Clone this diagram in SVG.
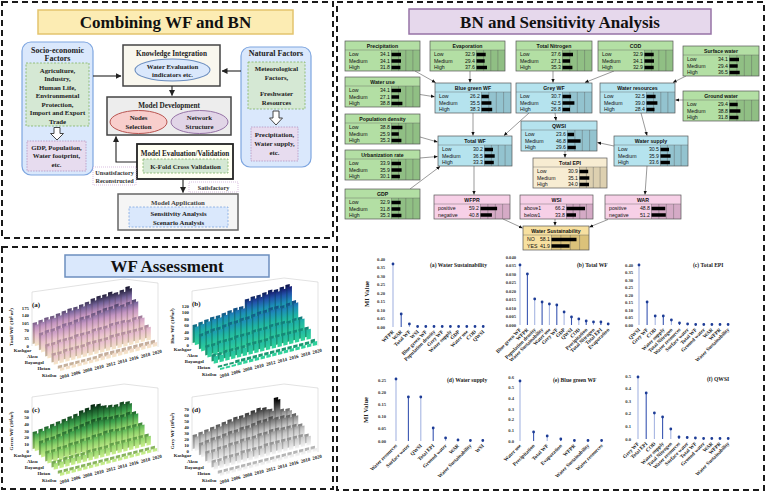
<svg xmlns="http://www.w3.org/2000/svg" width="768" height="492" viewBox="0 0 768 492">
<style>
.pn{fill:none;stroke:#1a1a1a;stroke-width:2;stroke-dasharray:6 4}
.tt{font-family:"Liberation Serif",serif;font-weight:bold;font-size:17px;text-anchor:middle;fill:#111}
.t8{font-family:"Liberation Serif",serif;font-weight:bold;font-size:8px;text-anchor:middle;fill:#222}
.t73{font-family:"Liberation Serif",serif;font-weight:bold;font-size:7.2px;text-anchor:middle;fill:#222}
.t7{font-family:"Liberation Serif",serif;font-weight:bold;font-size:6.8px;text-anchor:middle;fill:#222}
.t6{font-family:"Liberation Serif",serif;font-weight:bold;font-size:6.2px;text-anchor:middle;fill:#333}
.gd{fill:#d5e8d4;stroke:#82b366;stroke-width:.8;stroke-dasharray:2 1.5}
.pk{fill:#e7dcef;stroke:#b493c0;stroke-width:.8;stroke-dasharray:1.5 1.2}
.lb{fill:#fff;stroke:#c9a3d3;stroke-width:.7;stroke-dasharray:1 1}
.cn{stroke:#222;stroke-width:1.1;fill:none;marker-end:url(#ah2)}
.ba{fill:#fff;stroke:#333;stroke-width:.9}
.nt{font-family:"Liberation Sans",Arial,sans-serif;font-size:5.2px;font-weight:bold;text-anchor:middle;fill:#111}
.sl{font-family:"Liberation Sans",Arial,sans-serif;font-size:5.2px;fill:#111}
.sv{font-family:"Liberation Sans",Arial,sans-serif;font-size:5.2px;text-anchor:end;fill:#111}
.ol{fill:none;stroke:#555;stroke-width:.7}
.gl{stroke:#5c5c5c;stroke-width:.4;fill:none}
.br{fill:#000}
.g1{fill:#b3dfa4}.g2{fill:#90bf84}
.b1{fill:#b5e3ee}.b2{fill:#93c3cf}
.p1{fill:#f7d0e7}.p2{fill:#d5aac6}
.y1{fill:#f7e0a0}.y2{fill:#dbc27a}
.e1{fill:#f7ecd2}.e2{fill:#ddd0b0}
.ar{stroke:#555;stroke-width:.6;fill:none;marker-end:url(#ah)}
.ax{font-family:"Liberation Serif",serif;font-weight:bold;font-size:4.8px;fill:#222}
.axe{font-family:"Liberation Serif",serif;font-weight:bold;font-size:4.8px;fill:#222;text-anchor:end}
.axm{font-family:"Liberation Serif",serif;font-weight:bold;font-size:5px;fill:#222;text-anchor:middle}
.cl{font-family:"Liberation Serif",serif;font-weight:bold;font-size:7px;fill:#111}
.fr{fill:none;stroke:#c4c4c4;stroke-width:.5}
.ml{font-family:"Liberation Serif",serif;font-weight:bold;font-size:5.2px;fill:#222;text-anchor:end}
.mt{font-family:"Liberation Serif",serif;font-weight:bold;font-size:5.6px;fill:#222}
.mk{font-family:"Liberation Serif",serif;font-weight:bold;font-size:4.6px;fill:#333;text-anchor:end}
.my{font-family:"Liberation Serif",serif;font-weight:bold;font-size:6.5px;fill:#222;text-anchor:middle}
.sL{stroke:#a7b6e2;stroke-width:1.1;fill:none}
.sD{stroke:#3a57b2;stroke-width:1.1;fill:none}
.dt{stroke:#1d3c96;stroke-width:2.8;stroke-linecap:round;fill:none}
</style>
<defs>
<marker id="ah" viewBox="0 0 6 6" refX="5.5" refY="3" markerWidth="4" markerHeight="4" orient="auto" markerUnits="userSpaceOnUse"><path d="M0 .5L6 3L0 5.5z" fill="#111"/></marker>
<marker id="ah2" viewBox="0 0 6 6" refX="5.5" refY="3" markerWidth="6" markerHeight="6" orient="auto" markerUnits="userSpaceOnUse"><path d="M0 0L6 3L0 6z" fill="#222"/></marker>
<linearGradient id="ga" gradientUnits="userSpaceOnUse" x1="0" y1="0" x2="0" y2="-33"><stop offset="0" stop-color="#f6e7c9"/><stop offset=".3" stop-color="#e9c0cf"/><stop offset=".55" stop-color="#c596c2"/><stop offset=".78" stop-color="#75639a"/><stop offset="1" stop-color="#25223f"/></linearGradient>
<linearGradient id="gad" gradientUnits="userSpaceOnUse" x1="0" y1="0" x2="0" y2="-33"><stop offset="0" stop-color="#c9b79a"/><stop offset=".3" stop-color="#b8929f"/><stop offset=".55" stop-color="#93709a"/><stop offset=".78" stop-color="#524670"/><stop offset="1" stop-color="#14122a"/></linearGradient>
<linearGradient id="gb" gradientUnits="userSpaceOnUse" x1="0" y1="0" x2="0" y2="-33"><stop offset="0" stop-color="#32d69a"/><stop offset=".35" stop-color="#1fb3a5"/><stop offset=".6" stop-color="#1d8cb8"/><stop offset=".82" stop-color="#2155aa"/><stop offset="1" stop-color="#1a2378"/></linearGradient>
<linearGradient id="gbd" gradientUnits="userSpaceOnUse" x1="0" y1="0" x2="0" y2="-33"><stop offset="0" stop-color="#1f9c70"/><stop offset=".35" stop-color="#13837a"/><stop offset=".6" stop-color="#12628a"/><stop offset=".82" stop-color="#143a80"/><stop offset="1" stop-color="#0e1550"/></linearGradient>
<linearGradient id="gc" gradientUnits="userSpaceOnUse" x1="0" y1="0" x2="0" y2="-29"><stop offset="0" stop-color="#cdf08f"/><stop offset=".3" stop-color="#8fd46c"/><stop offset=".6" stop-color="#3a9f4b"/><stop offset="1" stop-color="#0c3d1d"/></linearGradient>
<linearGradient id="gcd" gradientUnits="userSpaceOnUse" x1="0" y1="0" x2="0" y2="-29"><stop offset="0" stop-color="#93b864"/><stop offset=".3" stop-color="#5e9e47"/><stop offset=".6" stop-color="#246e31"/><stop offset="1" stop-color="#062410"/></linearGradient>
<linearGradient id="gd" gradientUnits="userSpaceOnUse" x1="0" y1="0" x2="0" y2="-30"><stop offset="0" stop-color="#f5f5f5"/><stop offset=".35" stop-color="#c4c4c4"/><stop offset=".7" stop-color="#626262"/><stop offset="1" stop-color="#050505"/></linearGradient>
<linearGradient id="gdd" gradientUnits="userSpaceOnUse" x1="0" y1="0" x2="0" y2="-30"><stop offset="0" stop-color="#bdbdbd"/><stop offset=".35" stop-color="#8e8e8e"/><stop offset=".7" stop-color="#404040"/><stop offset="1" stop-color="#000"/></linearGradient>
<path id="a4" d="M0 0v-21h7.5v21zm10 0v-22h7.5v22zm10 0v-23h7.5v23zm10 0v-23h7.5v23zm10 0v-24h7.5v24zm10 0v-25h7.5v25zm10 0v-26h7.5v26zm10 0v-26h7.5v26zm10 0v-27h7.5v27zm10 0v-28h7.5v28zm10 0v-30h7.5v30zm10 0v-31h7.5v31zm10 0v-31h7.5v31zm10 0v-32h7.5v32zm10 0v-30h7.5v30zm10 0v-31h7.5v31zm10 0v-33h7.5v33z"/>
<path id="a3" d="M0 0v-17h7.5v17zm10 0v-18h7.5v18zm10 0v-18h7.5v18zm10 0v-19h7.5v19zm10 0v-20h7.5v20zm10 0v-20h7.5v20zm10 0v-21h7.5v21zm10 0v-22h7.5v22zm10 0v-22h7.5v22zm10 0v-23h7.5v23zm10 0v-24h7.5v24zm10 0v-25h7.5v25zm10 0v-25h7.5v25zm10 0v-26h7.5v26zm10 0v-24h7.5v24zm10 0v-25h7.5v25zm10 0v-26h7.5v26z"/>
<path id="a2" d="M0 0v-12h7.5v12zm10 0v-12h7.5v12zm10 0v-13h7.5v13zm10 0v-13h7.5v13zm10 0v-13h7.5v13zm10 0v-14h7.5v14zm10 0v-14h7.5v14zm10 0v-14h7.5v14zm10 0v-15h7.5v15zm10 0v-15h7.5v15zm10 0v-15h7.5v15zm10 0v-16h7.5v16zm10 0v-16h7.5v16zm10 0v-16h7.5v16zm10 0v-15h7.5v15zm10 0v-16h7.5v16zm10 0v-16h7.5v16z"/>
<path id="a1" d="M0 0v-9h7.5v9zm10 0v-9h7.5v9zm10 0v-10h7.5v10zm10 0v-10h7.5v10zm10 0v-10h7.5v10zm10 0v-10h7.5v10zm10 0v-11h7.5v11zm10 0v-11h7.5v11zm10 0v-11h7.5v11zm10 0v-11h7.5v11zm10 0v-12h7.5v12zm10 0v-12h7.5v12zm10 0v-12h7.5v12zm10 0v-12h7.5v12zm10 0v-12h7.5v12zm10 0v-12h7.5v12zm10 0v-13h7.5v13z"/>
<path id="a0" d="M0 0v-3h7.5v3zm10 0v-3h7.5v3zm10 0v-3h7.5v3zm10 0v-3h7.5v3zm10 0v-3h7.5v3zm10 0v-3h7.5v3zm10 0v-3h7.5v3zm10 0v-4h7.5v4zm10 0v-4h7.5v4zm10 0v-4h7.5v4zm10 0v-4h7.5v4zm10 0v-4h7.5v4zm10 0v-4h7.5v4zm10 0v-4h7.5v4zm10 0v-4h7.5v4zm10 0v-4h7.5v4zm10 0v-4h7.5v4z"/>
<path id="b4" d="M0 0v-18h7.5v18zm10 0v-19h7.5v19zm10 0v-20h7.5v20zm10 0v-21h7.5v21zm10 0v-21h7.5v21zm10 0v-22h7.5v22zm10 0v-23h7.5v23zm10 0v-24h7.5v24zm10 0v-24h7.5v24zm10 0v-30h7.5v30zm10 0v-31h7.5v31zm10 0v-31h7.5v31zm10 0v-32h7.5v32zm10 0v-33h7.5v33zm10 0v-32h7.5v32zm10 0v-33h7.5v33zm10 0v-34h7.5v34z"/>
<path id="b3" d="M0 0v-15h7.5v15zm10 0v-16h7.5v16zm10 0v-17h7.5v17zm10 0v-17h7.5v17zm10 0v-18h7.5v18zm10 0v-19h7.5v19zm10 0v-19h7.5v19zm10 0v-20h7.5v20zm10 0v-20h7.5v20zm10 0v-21h7.5v21zm10 0v-22h7.5v22zm10 0v-22h7.5v22zm10 0v-23h7.5v23zm10 0v-23h7.5v23zm10 0v-22h7.5v22zm10 0v-23h7.5v23zm10 0v-24h7.5v24z"/>
<path id="b2" d="M0 0v-10h7.5v10zm10 0v-10h7.5v10zm10 0v-11h7.5v11zm10 0v-11h7.5v11zm10 0v-11h7.5v11zm10 0v-12h7.5v12zm10 0v-12h7.5v12zm10 0v-12h7.5v12zm10 0v-13h7.5v13zm10 0v-13h7.5v13zm10 0v-13h7.5v13zm10 0v-14h7.5v14zm10 0v-14h7.5v14zm10 0v-14h7.5v14zm10 0v-13h7.5v13zm10 0v-14h7.5v14zm10 0v-14h7.5v14z"/>
<path id="b1" d="M0 0v-7h7.5v7zm10 0v-7h7.5v7zm10 0v-8h7.5v8zm10 0v-8h7.5v8zm10 0v-8h7.5v8zm10 0v-8h7.5v8zm10 0v-9h7.5v9zm10 0v-9h7.5v9zm10 0v-9h7.5v9zm10 0v-9h7.5v9zm10 0v-10h7.5v10zm10 0v-10h7.5v10zm10 0v-10h7.5v10zm10 0v-10h7.5v10zm10 0v-10h7.5v10zm10 0v-10h7.5v10zm10 0v-10h7.5v10z"/>
<path id="b0" d="M0 0v-2h7.5v2zm10 0v-2h7.5v2zm10 0v-2h7.5v2zm10 0v-3h7.5v3zm10 0v-3h7.5v3zm10 0v-3h7.5v3zm10 0v-3h7.5v3zm10 0v-3h7.5v3zm10 0v-3h7.5v3zm10 0v-3h7.5v3zm10 0v-3h7.5v3zm10 0v-3h7.5v3zm10 0v-3h7.5v3zm10 0v-3h7.5v3zm10 0v-3h7.5v3zm10 0v-3h7.5v3zm10 0v-4h7.5v4z"/>
<path id="c4" d="M0 0v-17h7.5v17zm10 0v-18h7.5v18zm10 0v-19h7.5v19zm10 0v-20h7.5v20zm10 0v-21h7.5v21zm10 0v-22h7.5v22zm10 0v-23h7.5v23zm10 0v-24h7.5v24zm10 0v-26h7.5v26zm10 0v-27h7.5v27zm10 0v-29h7.5v29zm10 0v-28h7.5v28zm10 0v-25h7.5v25zm10 0v-24h7.5v24zm10 0v-23h7.5v23zm10 0v-24h7.5v24zm10 0v-23h7.5v23z"/>
<path id="c3" d="M0 0v-14h7.5v14zm10 0v-15h7.5v15zm10 0v-15h7.5v15zm10 0v-16h7.5v16zm10 0v-17h7.5v17zm10 0v-18h7.5v18zm10 0v-19h7.5v19zm10 0v-20h7.5v20zm10 0v-21h7.5v21zm10 0v-22h7.5v22zm10 0v-22h7.5v22zm10 0v-21h7.5v21zm10 0v-20h7.5v20zm10 0v-20h7.5v20zm10 0v-19h7.5v19zm10 0v-20h7.5v20zm10 0v-19h7.5v19z"/>
<path id="c2" d="M0 0v-10h7.5v10zm10 0v-10h7.5v10zm10 0v-11h7.5v11zm10 0v-11h7.5v11zm10 0v-12h7.5v12zm10 0v-12h7.5v12zm10 0v-13h7.5v13zm10 0v-13h7.5v13zm10 0v-14h7.5v14zm10 0v-14h7.5v14zm10 0v-15h7.5v15zm10 0v-15h7.5v15zm10 0v-14h7.5v14zm10 0v-14h7.5v14zm10 0v-14h7.5v14zm10 0v-14h7.5v14zm10 0v-14h7.5v14z"/>
<path id="c1" d="M0 0v-6h7.5v6zm10 0v-6h7.5v6zm10 0v-7h7.5v7zm10 0v-7h7.5v7zm10 0v-7h7.5v7zm10 0v-7h7.5v7zm10 0v-8h7.5v8zm10 0v-8h7.5v8zm10 0v-8h7.5v8zm10 0v-8h7.5v8zm10 0v-9h7.5v9zm10 0v-9h7.5v9zm10 0v-9h7.5v9zm10 0v-9h7.5v9zm10 0v-9h7.5v9zm10 0v-9h7.5v9zm10 0v-9h7.5v9z"/>
<path id="c0" d="M0 0v-3h7.5v3zm10 0v-3h7.5v3zm10 0v-3h7.5v3zm10 0v-3h7.5v3zm10 0v-3h7.5v3zm10 0v-3h7.5v3zm10 0v-3h7.5v3zm10 0v-3h7.5v3zm10 0v-3h7.5v3zm10 0v-3h7.5v3zm10 0v-3h7.5v3zm10 0v-3h7.5v3zm10 0v-3h7.5v3zm10 0v-3h7.5v3zm10 0v-3h7.5v3zm10 0v-3h7.5v3zm10 0v-3h7.5v3z"/>
<path id="d4" d="M0 0v-14h7.5v14zm10 0v-15h7.5v15zm10 0v-16h7.5v16zm10 0v-17h7.5v17zm10 0v-18h7.5v18zm10 0v-19h7.5v19zm10 0v-20h7.5v20zm10 0v-21h7.5v21zm10 0v-21h7.5v21zm10 0v-22h7.5v22zm10 0v-23h7.5v23zm10 0v-24h7.5v24zm10 0v-23h7.5v23zm10 0v-20h7.5v20zm10 0v-30h7.5v30zm10 0v-17h7.5v17zm10 0v-16h7.5v16z"/>
<path id="d3" d="M0 0v-12h7.5v12zm10 0v-13h7.5v13zm10 0v-14h7.5v14zm10 0v-14h7.5v14zm10 0v-15h7.5v15zm10 0v-16h7.5v16zm10 0v-16h7.5v16zm10 0v-17h7.5v17zm10 0v-17h7.5v17zm10 0v-18h7.5v18zm10 0v-19h7.5v19zm10 0v-19h7.5v19zm10 0v-20h7.5v20zm10 0v-18h7.5v18zm10 0v-18h7.5v18zm10 0v-17h7.5v17zm10 0v-17h7.5v17z"/>
<path id="d2" d="M0 0v-10h7.5v10zm10 0v-10h7.5v10zm10 0v-11h7.5v11zm10 0v-11h7.5v11zm10 0v-12h7.5v12zm10 0v-12h7.5v12zm10 0v-13h7.5v13zm10 0v-13h7.5v13zm10 0v-13h7.5v13zm10 0v-14h7.5v14zm10 0v-14h7.5v14zm10 0v-15h7.5v15zm10 0v-15h7.5v15zm10 0v-14h7.5v14zm10 0v-14h7.5v14zm10 0v-14h7.5v14zm10 0v-13h7.5v13z"/>
<path id="d1" d="M0 0v-7h7.5v7zm10 0v-7h7.5v7zm10 0v-8h7.5v8zm10 0v-8h7.5v8zm10 0v-8h7.5v8zm10 0v-9h7.5v9zm10 0v-9h7.5v9zm10 0v-9h7.5v9zm10 0v-9h7.5v9zm10 0v-10h7.5v10zm10 0v-10h7.5v10zm10 0v-10h7.5v10zm10 0v-10h7.5v10zm10 0v-10h7.5v10zm10 0v-10h7.5v10zm10 0v-10h7.5v10zm10 0v-9h7.5v9z"/>
<path id="d0" d="M0 0v-3h7.5v3zm10 0v-3h7.5v3zm10 0v-3h7.5v3zm10 0v-3h7.5v3zm10 0v-3h7.5v3zm10 0v-3h7.5v3zm10 0v-3h7.5v3zm10 0v-3h7.5v3zm10 0v-3h7.5v3zm10 0v-3h7.5v3zm10 0v-3h7.5v3zm10 0v-3h7.5v3zm10 0v-3h7.5v3zm10 0v-3h7.5v3zm10 0v-3h7.5v3zm10 0v-3h7.5v3zm10 0v-3h7.5v3z"/>
<g id="rowlab">
<text class="axe" x="31.3" y="351.7">Kashgar</text>
<text class="axe" x="37.6" y="357.9">Aksu</text>
<text class="axe" x="43.9" y="364.1">Bayangol</text>
<text class="axe" x="50.2" y="370.3">Hotan</text>
<text class="axe" x="56.5" y="376.5">Kizilsu</text>
</g>
<g id="yearlab">
<text class="ax" transform="translate(60,379) rotate(-14)">2004</text>
<text class="ax" transform="translate(71.6,376) rotate(-14)">2006</text>
<text class="ax" transform="translate(83.2,373) rotate(-14)">2008</text>
<text class="ax" transform="translate(94.8,370) rotate(-14)">2010</text>
<text class="ax" transform="translate(106.4,367) rotate(-14)">2012</text>
<text class="ax" transform="translate(118,364) rotate(-14)">2014</text>
<text class="ax" transform="translate(129.6,361) rotate(-14)">2016</text>
<text class="ax" transform="translate(141.2,358) rotate(-14)">2018</text>
<text class="ax" transform="translate(152.8,355) rotate(-14)">2020</text>
</g>
<path id="frame" d="M32 346V292L124 279L158 283V347"/>
</defs>
<rect width="768" height="492" fill="#fff"/>

<!-- Panels -->
<rect class="pn" x="2" y="2" width="331" height="236"/>
<rect class="pn" x="337" y="2" width="427" height="488"/>
<rect class="pn" x="2" y="247" width="331" height="242"/>

<!-- ===== Top-left: Combining WF and BN ===== -->
<g id="title-combining">
<rect x="38" y="10" width="255" height="24" fill="#fcecb3" stroke="#e3c46e" stroke-width="1.5"/>
<text class="tt" x="165.5" y="27.5">Combining WF and BN</text>
</g>
<g id="socio-economic">
<rect x="22" y="42" width="71" height="133" rx="9" fill="#dae8fc" stroke="#7ea6e0" stroke-width="1.2"/>
<text class="t8" x="57.5" y="52.5">Socio-economic</text>
<text class="t8" x="57.5" y="61">Factors</text>
<rect class="gd" x="26" y="63" width="63" height="63"/>
<text class="t7" x="57.5" y="72.5">Agriculture,</text>
<text class="t7" x="57.5" y="81">Industry,</text>
<text class="t7" x="57.5" y="89.5">Human Life,</text>
<text class="t7" x="57.5" y="98">Environmental</text>
<text class="t7" x="57.5" y="106.5">Protection,</text>
<text class="t7" x="57.5" y="115">Import and Export</text>
<text class="t7" x="57.5" y="123.5">Trade</text>
<path class="ba" d="M54 127.5h6v6h3.5l-6.5 6.5l-6.5-6.5h3.5z"/>
<rect class="pk" x="27" y="141" width="59" height="30"/>
<text class="t7" x="56.5" y="149.5">GDP, Population,</text>
<text class="t7" x="56.5" y="158">Water footprint,</text>
<text class="t7" x="56.5" y="166.5">etc.</text>
</g>
<g id="knowledge-integration">
<rect x="123" y="45" width="97" height="41" fill="#f9f7ee" stroke="#444" stroke-width="1.5"/>
<text class="t73" x="171.5" y="55.5">Knowledge Integration</text>
<ellipse cx="172.5" cy="70" rx="37.5" ry="11" fill="#dae8fc" stroke="#6c8ebf" stroke-width="1.1"/>
<text class="t7" x="172.5" y="68.5">Water Evaluation</text>
<text class="t7" x="172.5" y="77">indicators etc.</text>
</g>
<g id="model-development">
<rect x="107" y="97" width="124" height="38" fill="#ededed" stroke="#444" stroke-width="1.5"/>
<text class="t73" x="169" y="107.5">Model Development</text>
<ellipse cx="138.5" cy="122" rx="28.5" ry="11.5" fill="#f8cecc" stroke="#b85450" stroke-width="1"/>
<text class="t7" x="138.5" y="120">Nodes</text>
<text class="t7" x="138.5" y="128.8">Selection</text>
<ellipse cx="199.5" cy="122" rx="28.5" ry="11.5" fill="#e1d5e7" stroke="#9673a6" stroke-width="1"/>
<text class="t7" x="199.5" y="120">Network</text>
<text class="t7" x="199.5" y="128.8">Structure</text>
</g>
<g id="natural-factors">
<rect x="241" y="47" width="70" height="120" rx="9" fill="#dae8fc" stroke="#7ea6e0" stroke-width="1.2"/>
<text class="t8" x="276" y="56">Natural Factors</text>
<rect class="gd" x="248" y="62" width="57" height="47"/>
<text class="t7" x="276.5" y="70.5">Meteorological</text>
<text class="t7" x="276.5" y="79.5">Factors,</text>
<text class="t7" x="276.5" y="95.5">Freshwater</text>
<text class="t7" x="276.5" y="104.5">Resources</text>
<path class="ba" d="M273 111h6v7h3.5l-6.5 7l-6.5-7h3.5z"/>
<rect class="pk" x="251" y="127" width="47" height="34"/>
<text class="t7" x="274.5" y="136.5">Precipitation,</text>
<text class="t7" x="274.5" y="145.5">Water supply,</text>
<text class="t7" x="274.5" y="154.5">etc.</text>
</g>
<g id="model-evaluation">
<rect x="137" y="144" width="96" height="35" fill="#fffff3" stroke="#222" stroke-width="1.8"/>
<text class="t73" x="185" y="155.5">Model Evaluation/Validation</text>
<rect class="gd" x="143" y="159" width="85" height="14"/>
<text class="t7" x="185.5" y="169">K-Fold Cross Validation</text>
</g>
<g id="model-application">
<rect x="118" y="194" width="120" height="36" fill="#f5f5f5" stroke="#666" stroke-width="1.5"/>
<text class="t7" x="178" y="204.5" style="fill:#444">Model Application</text>
<rect x="129" y="207" width="99" height="20" fill="#dae8fc" stroke="#7ea6e0" stroke-width=".8" stroke-dasharray="2 1.5"/>
<text class="t7" x="178.5" y="215.5">Sensitivity Analysis</text>
<text class="t7" x="178.5" y="224.5">Scenario Analysis</text>
</g>
<g id="label-unsatisfactory">
<rect class="lb" x="93" y="167" width="43" height="18"/>
<text class="t6" x="114.5" y="174.5">Unsatisfactory</text>
<text class="t6" x="114.5" y="183">Reconstructed</text>
</g>
<g id="label-satisfactory">
<rect class="lb" x="189" y="182" width="49" height="10"/>
<text class="t6" x="213.5" y="189.5">Satisfactory</text>
</g>
<g id="tl-connectors">
<path class="cn" d="M93 76H121"/>
<path class="cn" d="M241 71H222"/>
<path class="cn" d="M172 86V95.5"/>
<path class="cn" d="M137 162H116V136.5"/>
<path class="cn" d="M183 179V192.5"/>
</g>

<!-- ===== Top-right: BN ===== -->
<g id="title-bn">
<rect x="409" y="9" width="302" height="25" fill="#e6d8ec" stroke="#9673a6" stroke-width="1.5"/>
<text class="tt" x="560" y="27.5">BN and Sensitivity Analysis</text>
</g>
<g id="bn-connectors">
<path class="ar" d="M415 71L435.5 82.5"/>
<path class="ar" d="M470 71V82.5"/>
<path class="ar" d="M420 94.5L434.5 96.8"/>
<path class="ar" d="M553 71V82.5"/>
<path class="ar" d="M614 71L585 82.5"/>
<path class="ar" d="M686 76L673 82.5"/>
<path class="ar" d="M683 100H675.5"/>
<path class="ar" d="M473 113V135.5"/>
<path class="ar" d="M529 113L504 135.5"/>
<path class="ar" d="M555 113L556 120.5"/>
<path class="ar" d="M641 113L647 135.5"/>
<path class="ar" d="M420 137L437.5 142"/>
<path class="ar" d="M420 158L437.5 156.5"/>
<path class="ar" d="M410 189L440 166.5"/>
<path class="ar" d="M474 166V194.5"/>
<path class="ar" d="M614 146L597.5 142.5"/>
<path class="ar" d="M565 151V157.5"/>
<path class="ar" d="M647 166L645 194.5"/>
<path class="ar" d="M608 219.5L589.5 227"/>
<path class="ar" d="M555 219V225.5"/>
<path class="ar" d="M503 219L522.5 228"/>
</g>

<g id="n-precipitation" transform="translate(345,41)">
<rect class="g1" width="75" height="30"/><rect class="g2" x="46.5" y="9" width="28.5" height="21"/>
<path class="gl" d="M0 9h75M46.5 9v21M53.6 9v21M60.8 9v21M67.9 9v21"/>
<text class="nt" x="37.5" y="7">Precipitation</text>
<text class="sl" x="4" y="15.3">Low</text><text class="sv" x="45" y="15.3">34.1</text>
<text class="sl" x="4" y="21.8">Medium</text><text class="sv" x="45" y="21.8">34.1</text>
<text class="sl" x="4" y="28.3">High</text><text class="sv" x="45" y="28.3">31.8</text>
<path class="br" d="M46.5 11.7h9.5v3.6h-9.5zM46.5 18.2h9.5v3.6h-9.5zM46.5 24.7h8.9v3.6h-8.9z"/>
<rect class="ol" width="75" height="30"/>
</g>
<g id="n-evaporation" transform="translate(430,41)">
<rect class="g1" width="75" height="30"/><rect class="g2" x="46.5" y="9" width="28.5" height="21"/>
<path class="gl" d="M0 9h75M46.5 9v21M53.6 9v21M60.8 9v21M67.9 9v21"/>
<text class="nt" x="37.5" y="7">Evaporation</text>
<text class="sl" x="4" y="15.3">Low</text><text class="sv" x="45" y="15.3">32.9</text>
<text class="sl" x="4" y="21.8">Medium</text><text class="sv" x="45" y="21.8">29.4</text>
<text class="sl" x="4" y="28.3">High</text><text class="sv" x="45" y="28.3">37.6</text>
<path class="br" d="M46.5 11.7h9.2v3.6h-9.2zM46.5 18.2h8.2v3.6h-8.2zM46.5 24.7h10.5v3.6h-10.5z"/>
<rect class="ol" width="75" height="30"/>
</g>
<g id="n-total-nitrogen" transform="translate(516,41)">
<rect class="g1" width="76" height="30"/><rect class="g2" x="46.5" y="9" width="29.5" height="21"/>
<path class="gl" d="M0 9h76M46.5 9v21M53.9 9v21M61.3 9v21M68.6 9v21"/>
<text class="nt" x="38" y="7">Total Nitrogen</text>
<text class="sl" x="4" y="15.3">Low</text><text class="sv" x="45" y="15.3">37.6</text>
<text class="sl" x="4" y="21.8">Medium</text><text class="sv" x="45" y="21.8">27.1</text>
<text class="sl" x="4" y="28.3">High</text><text class="sv" x="45" y="28.3">35.3</text>
<path class="br" d="M46.5 11.7h10.5v3.6h-10.5zM46.5 18.2h7.6v3.6h-7.6zM46.5 24.7h9.9v3.6h-9.9z"/>
<rect class="ol" width="76" height="30"/>
</g>
<g id="n-cod" transform="translate(598,41)">
<rect class="g1" width="75" height="30"/><rect class="g2" x="46.5" y="9" width="28.5" height="21"/>
<path class="gl" d="M0 9h75M46.5 9v21M53.6 9v21M60.8 9v21M67.9 9v21"/>
<text class="nt" x="37.5" y="7">COD</text>
<text class="sl" x="4" y="15.3">Low</text><text class="sv" x="45" y="15.3">32.9</text>
<text class="sl" x="4" y="21.8">Medium</text><text class="sv" x="45" y="21.8">34.1</text>
<text class="sl" x="4" y="28.3">High</text><text class="sv" x="45" y="28.3">32.9</text>
<path class="br" d="M46.5 11.7h9.2v3.6h-9.2zM46.5 18.2h9.5v3.6h-9.5zM46.5 24.7h9.2v3.6h-9.2z"/>
<rect class="ol" width="75" height="30"/>
</g>
<g id="n-surface-water" transform="translate(683,46)">
<rect class="g1" width="76" height="30"/><rect class="g2" x="46.5" y="9" width="29.5" height="21"/>
<path class="gl" d="M0 9h76M46.5 9v21M53.9 9v21M61.3 9v21M68.6 9v21"/>
<text class="nt" x="38" y="7">Surface water</text>
<text class="sl" x="4" y="15.3">Low</text><text class="sv" x="45" y="15.3">34.1</text>
<text class="sl" x="4" y="21.8">Medium</text><text class="sv" x="45" y="21.8">29.4</text>
<text class="sl" x="4" y="28.3">High</text><text class="sv" x="45" y="28.3">36.5</text>
<path class="br" d="M46.5 11.7h9.5v3.6h-9.5zM46.5 18.2h8.2v3.6h-8.2zM46.5 24.7h10.2v3.6h-10.2z"/>
<rect class="ol" width="76" height="30"/>
</g>
<g id="n-water-use" transform="translate(345,77)">
<rect class="g1" width="75" height="30"/><rect class="g2" x="46.5" y="9" width="28.5" height="21"/>
<path class="gl" d="M0 9h75M46.5 9v21M53.6 9v21M60.8 9v21M67.9 9v21"/>
<text class="nt" x="37.5" y="7">Water use</text>
<text class="sl" x="4" y="15.3">Low</text><text class="sv" x="45" y="15.3">34.1</text>
<text class="sl" x="4" y="21.8">Medium</text><text class="sv" x="45" y="21.8">27.1</text>
<text class="sl" x="4" y="28.3">High</text><text class="sv" x="45" y="28.3">38.8</text>
<path class="br" d="M46.5 11.7h9.5v3.6h-9.5zM46.5 18.2h7.6v3.6h-7.6zM46.5 24.7h10.9v3.6h-10.9z"/>
<rect class="ol" width="75" height="30"/>
</g>
<g id="n-blue-green-wf" transform="translate(435,83)">
<rect class="b1" width="76" height="30"/><rect class="b2" x="46.5" y="9" width="29.5" height="21"/>
<path class="gl" d="M0 9h76M46.5 9v21M53.9 9v21M61.3 9v21M68.6 9v21"/>
<text class="nt" x="38" y="7">Blue green WF</text>
<text class="sl" x="4" y="15.3">Low</text><text class="sv" x="45" y="15.3">26.2</text>
<text class="sl" x="4" y="21.8">Medium</text><text class="sv" x="45" y="21.8">35.5</text>
<text class="sl" x="4" y="28.3">High</text><text class="sv" x="45" y="28.3">38.3</text>
<path class="br" d="M46.5 11.7h7.3v3.6h-7.3zM46.5 18.2h9.9v3.6h-9.9zM46.5 24.7h10.7v3.6h-10.7z"/>
<rect class="ol" width="76" height="30"/>
</g>
<g id="n-grey-wf" transform="translate(516,83)">
<rect class="b1" width="76" height="30"/><rect class="b2" x="46.5" y="9" width="29.5" height="21"/>
<path class="gl" d="M0 9h76M46.5 9v21M53.9 9v21M61.3 9v21M68.6 9v21"/>
<text class="nt" x="38" y="7">Grey WF</text>
<text class="sl" x="4" y="15.3">Low</text><text class="sv" x="45" y="15.3">30.7</text>
<text class="sl" x="4" y="21.8">Medium</text><text class="sv" x="45" y="21.8">42.5</text>
<text class="sl" x="4" y="28.3">High</text><text class="sv" x="45" y="28.3">26.8</text>
<path class="br" d="M46.5 11.7h8.6v3.6h-8.6zM46.5 18.2h11.9v3.6h-11.9zM46.5 24.7h7.5v3.6h-7.5z"/>
<rect class="ol" width="76" height="30"/>
</g>
<g id="n-water-resources" transform="translate(600,83)">
<rect class="b1" width="75" height="30"/><rect class="b2" x="46.5" y="9" width="28.5" height="21"/>
<path class="gl" d="M0 9h75M46.5 9v21M53.6 9v21M60.8 9v21M67.9 9v21"/>
<text class="nt" x="37.5" y="7">Water resources</text>
<text class="sl" x="4" y="15.3">Low</text><text class="sv" x="45" y="15.3">32.5</text>
<text class="sl" x="4" y="21.8">Medium</text><text class="sv" x="45" y="21.8">39.0</text>
<text class="sl" x="4" y="28.3">High</text><text class="sv" x="45" y="28.3">28.4</text>
<path class="br" d="M46.5 11.7h9.1v3.6h-9.1zM46.5 18.2h10.9v3.6h-10.9zM46.5 24.7h8v3.6h-8z"/>
<rect class="ol" width="75" height="30"/>
</g>
<g id="n-ground-water" transform="translate(683,91)">
<rect class="g1" width="76" height="30"/><rect class="g2" x="46.5" y="9" width="29.5" height="21"/>
<path class="gl" d="M0 9h76M46.5 9v21M53.9 9v21M61.3 9v21M68.6 9v21"/>
<text class="nt" x="38" y="7">Ground water</text>
<text class="sl" x="4" y="15.3">Low</text><text class="sv" x="45" y="15.3">29.4</text>
<text class="sl" x="4" y="21.8">Medium</text><text class="sv" x="45" y="21.8">38.8</text>
<text class="sl" x="4" y="28.3">High</text><text class="sv" x="45" y="28.3">31.8</text>
<path class="br" d="M46.5 11.7h8.2v3.6h-8.2zM46.5 18.2h10.9v3.6h-10.9zM46.5 24.7h8.9v3.6h-8.9z"/>
<rect class="ol" width="76" height="30"/>
</g>
<g id="n-population-density" transform="translate(345,114)">
<rect class="g1" width="75" height="30"/><rect class="g2" x="46.5" y="9" width="28.5" height="21"/>
<path class="gl" d="M0 9h75M46.5 9v21M53.6 9v21M60.8 9v21M67.9 9v21"/>
<text class="nt" x="37.5" y="7">Population density</text>
<text class="sl" x="4" y="15.3">Low</text><text class="sv" x="45" y="15.3">38.8</text>
<text class="sl" x="4" y="21.8">Medium</text><text class="sv" x="45" y="21.8">25.9</text>
<text class="sl" x="4" y="28.3">High</text><text class="sv" x="45" y="28.3">35.3</text>
<path class="br" d="M46.5 11.7h10.9v3.6h-10.9zM46.5 18.2h7.3v3.6h-7.3zM46.5 24.7h9.9v3.6h-9.9z"/>
<rect class="ol" width="75" height="30"/>
</g>
<g id="n-qwsi" transform="translate(521,121)">
<rect class="b1" width="76" height="30"/><rect class="b2" x="46.5" y="9" width="29.5" height="21"/>
<path class="gl" d="M0 9h76M46.5 9v21M53.9 9v21M61.3 9v21M68.6 9v21"/>
<text class="nt" x="38" y="7">QWSI</text>
<text class="sl" x="4" y="15.3">Low</text><text class="sv" x="45" y="15.3">23.6</text>
<text class="sl" x="4" y="21.8">Medium</text><text class="sv" x="45" y="21.8">46.8</text>
<text class="sl" x="4" y="28.3">High</text><text class="sv" x="45" y="28.3">29.6</text>
<path class="br" d="M46.5 11.7h6.6v3.6h-6.6zM46.5 18.2h13.1v3.6h-13.1zM46.5 24.7h8.3v3.6h-8.3z"/>
<rect class="ol" width="76" height="30"/>
</g>
<g id="n-total-wf" transform="translate(438,136)">
<rect class="b1" width="74" height="30"/><rect class="b2" x="46.5" y="9" width="27.5" height="21"/>
<path class="gl" d="M0 9h74M46.5 9v21M53.4 9v21M60.3 9v21M67.1 9v21"/>
<text class="nt" x="37" y="7">Total WF</text>
<text class="sl" x="4" y="15.3">Low</text><text class="sv" x="45" y="15.3">30.2</text>
<text class="sl" x="4" y="21.8">Medium</text><text class="sv" x="45" y="21.8">36.5</text>
<text class="sl" x="4" y="28.3">High</text><text class="sv" x="45" y="28.3">33.3</text>
<path class="br" d="M46.5 11.7h8.5v3.6h-8.5zM46.5 18.2h10.2v3.6h-10.2zM46.5 24.7h9.3v3.6h-9.3z"/>
<rect class="ol" width="74" height="30"/>
</g>
<g id="n-water-supply" transform="translate(614,136)">
<rect class="b1" width="74" height="30"/><rect class="b2" x="46.5" y="9" width="27.5" height="21"/>
<path class="gl" d="M0 9h74M46.5 9v21M53.4 9v21M60.3 9v21M67.1 9v21"/>
<text class="nt" x="37" y="7">Water supply</text>
<text class="sl" x="4" y="15.3">Low</text><text class="sv" x="45" y="15.3">30.5</text>
<text class="sl" x="4" y="21.8">Medium</text><text class="sv" x="45" y="21.8">35.9</text>
<text class="sl" x="4" y="28.3">High</text><text class="sv" x="45" y="28.3">33.6</text>
<path class="br" d="M46.5 11.7h8.5v3.6h-8.5zM46.5 18.2h10.1v3.6h-10.1zM46.5 24.7h9.4v3.6h-9.4z"/>
<rect class="ol" width="74" height="30"/>
</g>
<g id="n-urbanization-rate" transform="translate(345,150)">
<rect class="g1" width="75" height="30"/><rect class="g2" x="46.5" y="9" width="28.5" height="21"/>
<path class="gl" d="M0 9h75M46.5 9v21M53.6 9v21M60.8 9v21M67.9 9v21"/>
<text class="nt" x="37.5" y="7">Urbanization rate</text>
<text class="sl" x="4" y="15.3">Low</text><text class="sv" x="45" y="15.3">33.9</text>
<text class="sl" x="4" y="21.8">Medium</text><text class="sv" x="45" y="21.8">35.9</text>
<text class="sl" x="4" y="28.3">High</text><text class="sv" x="45" y="28.3">30.1</text>
<path class="br" d="M46.5 11.7h9.5v3.6h-9.5zM46.5 18.2h10.1v3.6h-10.1zM46.5 24.7h8.4v3.6h-8.4z"/>
<rect class="ol" width="75" height="30"/>
</g>
<g id="n-total-epi" transform="translate(533,158)">
<rect class="e1" width="74" height="30"/><rect class="e2" x="46.5" y="9" width="27.5" height="21"/>
<path class="gl" d="M0 9h74M46.5 9v21M53.4 9v21M60.3 9v21M67.1 9v21"/>
<text class="nt" x="37" y="7">Total EPI</text>
<text class="sl" x="4" y="15.3">Low</text><text class="sv" x="45" y="15.3">30.9</text>
<text class="sl" x="4" y="21.8">Medium</text><text class="sv" x="45" y="21.8">35.1</text>
<text class="sl" x="4" y="28.3">High</text><text class="sv" x="45" y="28.3">34.0</text>
<path class="br" d="M46.5 11.7h8.7v3.6h-8.7zM46.5 18.2h9.8v3.6h-9.8zM46.5 24.7h9.5v3.6h-9.5z"/>
<rect class="ol" width="74" height="30"/>
</g>
<g id="n-gdp" transform="translate(345,189)">
<rect class="g1" width="75" height="30"/><rect class="g2" x="46.5" y="9" width="28.5" height="21"/>
<path class="gl" d="M0 9h75M46.5 9v21M53.6 9v21M60.8 9v21M67.9 9v21"/>
<text class="nt" x="37.5" y="7">GDP</text>
<text class="sl" x="4" y="15.3">Low</text><text class="sv" x="45" y="15.3">32.9</text>
<text class="sl" x="4" y="21.8">Medium</text><text class="sv" x="45" y="21.8">31.8</text>
<text class="sl" x="4" y="28.3">High</text><text class="sv" x="45" y="28.3">35.3</text>
<path class="br" d="M46.5 11.7h9.2v3.6h-9.2zM46.5 18.2h8.9v3.6h-8.9zM46.5 24.7h9.9v3.6h-9.9z"/>
<rect class="ol" width="75" height="30"/>
</g>
<g id="n-wfpr" transform="translate(434,195)">
<rect class="p1" width="76" height="24"/><rect class="p2" x="46.5" y="9" width="29.5" height="15"/>
<path class="gl" d="M0 9h76M46.5 9v15M53.9 9v15M61.3 9v15M68.6 9v15"/>
<text class="nt" x="38" y="7">WFPR</text>
<text class="sl" x="4" y="15.3">positive</text><text class="sv" x="45" y="15.3">59.2</text>
<text class="sl" x="4" y="21.8">negative</text><text class="sv" x="45" y="21.8">40.8</text>
<path class="br" d="M46.5 11.7h16.6v3.6h-16.6zM46.5 18.2h11.4v3.6h-11.4z"/>
<rect class="ol" width="76" height="24"/>
</g>
<g id="n-wsi" transform="translate(520,195)">
<rect class="p1" width="73" height="24"/><rect class="p2" x="46.5" y="9" width="26.5" height="15"/>
<path class="gl" d="M0 9h73M46.5 9v15M53.1 9v15M59.8 9v15M66.4 9v15"/>
<text class="nt" x="36.5" y="7">WSI</text>
<text class="sl" x="4" y="15.3">above1</text><text class="sv" x="45" y="15.3">66.2</text>
<text class="sl" x="4" y="21.8">below1</text><text class="sv" x="45" y="21.8">33.8</text>
<path class="br" d="M46.5 11.7h18.5v3.6h-18.5zM46.5 18.2h9.5v3.6h-9.5z"/>
<rect class="ol" width="73" height="24"/>
</g>
<g id="n-war" transform="translate(605,195)">
<rect class="p1" width="76" height="24"/><rect class="p2" x="46.5" y="9" width="29.5" height="15"/>
<path class="gl" d="M0 9h76M46.5 9v15M53.9 9v15M61.3 9v15M68.6 9v15"/>
<text class="nt" x="38" y="7">WAR</text>
<text class="sl" x="4" y="15.3">positive</text><text class="sv" x="45" y="15.3">48.8</text>
<text class="sl" x="4" y="21.8">negative</text><text class="sv" x="45" y="21.8">51.2</text>
<path class="br" d="M46.5 11.7h13.7v3.6h-13.7zM46.5 18.2h14.3v3.6h-14.3z"/>
<rect class="ol" width="76" height="24"/>
</g>
<g id="n-water-sustainability" transform="translate(523,226)">
<rect class="y1" width="66" height="24"/><rect class="y2" x="28.5" y="9" width="37.5" height="15"/>
<path class="gl" d="M0 9h66M28.5 9v15M37.9 9v15M47.3 9v15M56.6 9v15"/>
<text class="nt" x="33" y="7">Water Sustainability</text>
<text class="sl" x="4" y="15.3">NO</text><text class="sv" x="27" y="15.3">58.1</text>
<text class="sl" x="4" y="21.8">YES</text><text class="sv" x="27" y="21.8">41.9</text>
<path class="br" d="M28.5 11.7h25v3.6h-25zM28.5 18.2h18v3.6h-18z"/>
<rect class="ol" width="66" height="24"/>
</g>

<!-- ===== MI charts ===== -->
<g id="mi-a">
<text class="my" transform="translate(369,294) rotate(-90)">MI Value</text>
<text class="mk" x="385" y="260.6">0.40</text><text class="mk" x="385" y="269.1">0.35</text><text class="mk" x="385" y="277.6">0.30</text><text class="mk" x="385" y="286.1">0.25</text><text class="mk" x="385" y="294.6">0.20</text><text class="mk" x="385" y="303.1">0.15</text><text class="mk" x="385" y="311.6">0.10</text><text class="mk" x="385" y="320.1">0.05</text><text class="mk" x="385" y="328.6">0.00</text>
<text class="mt" x="430" y="267">(a) Water Sustainability</text>
<path class="sL" d="M393 327V264M409.4 327V324"/>
<path class="sD" d="M401.2 327V314"/>
<path class="dt" d="M393 264h0M401.2 314h0M409.4 324h0M417.6 326.5h0M425.8 326.5h0M434 326.5h0M442.2 326.5h0M450.4 326.5h0M458.6 326.5h0M466.8 326.5h0M475 326.5h0M483.2 326.5h0"/>
<text class="ml" transform="translate(394.5,332) rotate(-45)">WFPR</text>
<text class="ml" transform="translate(402.7,332) rotate(-45)">WAR</text>
<text class="ml" transform="translate(410.9,332) rotate(-45)">Total WF</text>
<text class="ml" transform="translate(419.1,332) rotate(-45)">WSI</text>
<text class="ml" transform="translate(427.3,332) rotate(-45)">Blue green WF</text>
<text class="ml" transform="translate(435.5,332) rotate(-45)">Population density</text>
<text class="ml" transform="translate(443.7,332) rotate(-45)">Grey WF</text>
<text class="ml" transform="translate(451.9,332) rotate(-45)">Water supply</text>
<text class="ml" transform="translate(460.1,332) rotate(-45)">GDP</text>
<text class="ml" transform="translate(468.3,332) rotate(-45)">Water use</text>
<text class="ml" transform="translate(476.5,332) rotate(-45)">COD</text>
<text class="ml" transform="translate(484.7,332) rotate(-45)">QWSI</text>
</g>
<g id="mi-b">
<text class="mk" x="516" y="258.6">0.040</text><text class="mk" x="516" y="267.1">0.035</text><text class="mk" x="516" y="275.6">0.030</text><text class="mk" x="516" y="284.1">0.025</text><text class="mk" x="516" y="292.6">0.020</text><text class="mk" x="516" y="301.1">0.015</text><text class="mk" x="516" y="309.6">0.010</text><text class="mk" x="516" y="318.1">0.005</text><text class="mk" x="516" y="326.6">0.000</text>
<text class="mt" x="577" y="267">(b) Total WF</text>
<path class="sL" d="M520 325V265M534.7 325V299M549.4 325V304M564.1 325V312M578.8 325V319M593.5 325V322M608.2 325V324"/>
<path class="sD" d="M527.4 325V274M542.1 325V302M556.8 325V305M571.5 325V317M586.2 325V321M600.9 325V322"/>
<path class="dt" d="M520 265h0M527.4 274h0M534.7 299h0M542.1 302h0M549.4 304h0M556.8 305h0M564.1 312h0M571.5 317h0M578.8 319h0M586.2 321h0M593.5 322h0M600.9 322h0M608.2 324h0"/>
<text class="ml" transform="translate(521.5,330) rotate(-45)">Blue green WF</text>
<text class="ml" transform="translate(528.9,330) rotate(-45)">WFPR</text>
<text class="ml" transform="translate(536.2,330) rotate(-45)">Population density</text>
<text class="ml" transform="translate(543.6,330) rotate(-45)">Water Sustainability</text>
<text class="ml" transform="translate(550.9,330) rotate(-45)">Water use</text>
<text class="ml" transform="translate(558.3,330) rotate(-45)">Grey WF</text>
<text class="ml" transform="translate(565.6,330) rotate(-45)">GDP</text>
<text class="ml" transform="translate(573,330) rotate(-45)">QWSI</text>
<text class="ml" transform="translate(580.3,330) rotate(-45)">COD</text>
<text class="ml" transform="translate(587.7,330) rotate(-45)">Precipitation</text>
<text class="ml" transform="translate(595,330) rotate(-45)">Total Nitrogen</text>
<text class="ml" transform="translate(602.4,330) rotate(-45)">Total EPI</text>
<text class="ml" transform="translate(609.7,330) rotate(-45)">Evaporation</text>
</g>
<g id="mi-c">
<text class="mk" x="633" y="266.6">0.40</text><text class="mk" x="633" y="274.1">0.35</text><text class="mk" x="633" y="281.6">0.30</text><text class="mk" x="633" y="289.1">0.25</text><text class="mk" x="633" y="296.6">0.20</text><text class="mk" x="633" y="304.1">0.15</text><text class="mk" x="633" y="311.6">0.10</text><text class="mk" x="633" y="319.1">0.05</text><text class="mk" x="633" y="326.6">0.00</text>
<text class="mt" x="693" y="267">(c) Total EPI</text>
<path class="sL" d="M639 325V265M655.2 325V316M671.4 325V320M687.6 325V324"/>
<path class="sD" d="M647.1 325V302M663.3 325V316M679.5 325V323"/>
<path class="dt" d="M639 265h0M647.1 302h0M655.2 316h0M663.3 316h0M671.4 320h0M679.5 323h0M687.6 324h0M695.7 324.5h0M703.8 324.5h0M711.9 324.5h0M720 324.5h0M728.1 324.5h0"/>
<text class="ml" transform="translate(640.5,330) rotate(-45)">QWSI</text>
<text class="ml" transform="translate(648.6,330) rotate(-45)">Grey WF</text>
<text class="ml" transform="translate(656.7,330) rotate(-45)">COD</text>
<text class="ml" transform="translate(664.8,330) rotate(-45)">Water supply</text>
<text class="ml" transform="translate(672.9,330) rotate(-45)">Total Nitrogen</text>
<text class="ml" transform="translate(681,330) rotate(-45)">Water resources</text>
<text class="ml" transform="translate(689.1,330) rotate(-45)">Surface water</text>
<text class="ml" transform="translate(697.2,330) rotate(-45)">Total WF</text>
<text class="ml" transform="translate(705.3,330) rotate(-45)">Ground water</text>
<text class="ml" transform="translate(713.4,330) rotate(-45)">WAR</text>
<text class="ml" transform="translate(721.5,330) rotate(-45)">WFPR</text>
<text class="ml" transform="translate(729.6,330) rotate(-45)">Water Sustainability</text>
</g>
<g id="mi-d">
<text class="my" transform="translate(368,410) rotate(-90)">MI Value</text>
<text class="mk" x="386" y="381.6">0.25</text><text class="mk" x="386" y="393.8">0.20</text><text class="mk" x="386" y="406">0.15</text><text class="mk" x="386" y="418.2">0.10</text><text class="mk" x="386" y="430.4">0.05</text><text class="mk" x="386" y="442.6">0.00</text>
<text class="mt" x="447" y="382">(d) Water supply</text>
<path class="sL" d="M396 441V379M420.8 441V397M445.6 441V438"/>
<path class="sD" d="M408.4 441V397M433.2 441V428M458 441V440"/>
<path class="dt" d="M396 379h0M408.4 397h0M420.8 397h0M433.2 428h0M445.6 438h0M458 440h0M470.4 440.5h0M482.8 440.5h0"/>
<text class="ml" transform="translate(397.5,446) rotate(-45)">Water resources</text>
<text class="ml" transform="translate(409.9,446) rotate(-45)">Surface water</text>
<text class="ml" transform="translate(422.3,446) rotate(-45)">QWSI</text>
<text class="ml" transform="translate(434.7,446) rotate(-45)">Total EPI</text>
<text class="ml" transform="translate(447.1,446) rotate(-45)">Ground water</text>
<text class="ml" transform="translate(459.5,446) rotate(-45)">WAR</text>
<text class="ml" transform="translate(471.9,446) rotate(-45)">Water Sustainability</text>
<text class="ml" transform="translate(484.3,446) rotate(-45)">WSI</text>
</g>
<g id="mi-e">
<text class="mk" x="514" y="378.6">0.6</text><text class="mk" x="514" y="389.3">0.5</text><text class="mk" x="514" y="399.9">0.4</text><text class="mk" x="514" y="410.6">0.3</text><text class="mk" x="514" y="421.3">0.2</text><text class="mk" x="514" y="431.9">0.1</text><text class="mk" x="514" y="442.6">0.0</text>
<text class="mt" x="553" y="382">(e) Blue green WF</text>
<path class="sL" d="M520 441V381M547.2 441V436"/>
<path class="sD" d="M533.6 441V432M560.8 441V439"/>
<path class="dt" d="M520 381h0M533.6 432h0M547.2 436h0M560.8 439h0M574.4 440.5h0M588 440.5h0M601.6 440.5h0"/>
<text class="ml" transform="translate(521.5,446) rotate(-45)">Water use</text>
<text class="ml" transform="translate(535.1,446) rotate(-45)">Precipitation</text>
<text class="ml" transform="translate(548.7,446) rotate(-45)">Total WF</text>
<text class="ml" transform="translate(562.3,446) rotate(-45)">Evaporation</text>
<text class="ml" transform="translate(575.9,446) rotate(-45)">WFPR</text>
<text class="ml" transform="translate(589.5,446) rotate(-45)">Water Sustainability</text>
<text class="ml" transform="translate(603.1,446) rotate(-45)">Water resources</text>
</g>
<g id="mi-f">
<text class="mk" x="631" y="377.6">0.5</text><text class="mk" x="631" y="390.2">0.4</text><text class="mk" x="631" y="402.8">0.3</text><text class="mk" x="631" y="415.4">0.2</text><text class="mk" x="631" y="428">0.1</text><text class="mk" x="631" y="440.6">0.0</text>
<text class="mt" x="707" y="381">(f) QWSI</text>
<path class="sL" d="M638 439V377M654.4 439V413M670.8 439V429M687.2 439V437.5"/>
<path class="sD" d="M646.2 439V393M662.6 439V417M679 439V437"/>
<path class="dt" d="M638 377h0M646.2 393h0M654.4 413h0M662.6 417h0M670.8 429h0M679 437h0M687.2 437.5h0M695.4 438h0M703.6 438.5h0M711.8 438.5h0M720 438.5h0M728.2 438.5h0"/>
<text class="ml" transform="translate(639.5,444) rotate(-45)">Grey WF</text>
<text class="ml" transform="translate(647.7,444) rotate(-45)">Total EPI</text>
<text class="ml" transform="translate(655.9,444) rotate(-45)">COD</text>
<text class="ml" transform="translate(664.1,444) rotate(-45)">Water supply</text>
<text class="ml" transform="translate(672.3,444) rotate(-45)">Total Nitrogen</text>
<text class="ml" transform="translate(680.5,444) rotate(-45)">Water resources</text>
<text class="ml" transform="translate(688.7,444) rotate(-45)">Surface water</text>
<text class="ml" transform="translate(696.9,444) rotate(-45)">Total WF</text>
<text class="ml" transform="translate(705.1,444) rotate(-45)">Ground water</text>
<text class="ml" transform="translate(713.3,444) rotate(-45)">WAR</text>
<text class="ml" transform="translate(721.5,444) rotate(-45)">WFPR</text>
<text class="ml" transform="translate(729.7,444) rotate(-45)">Water Sustainability</text>
</g>

<!-- ===== Bottom-left: WF Assessment ===== -->
<g id="title-wf">
<rect x="65" y="255" width="204" height="22" fill="#dae8fc" stroke="#6c8ebf" stroke-width="1.5"/>
<text class="tt" x="167" y="272">WF Assessment</text>
</g>
<g id="chart-a">
<use href="#frame" class="fr"/>
<use href="#a4" transform="translate(32.6,344) matrix(.58,-.15,0,1,0,0)" fill="url(#gad)"/>
<use href="#a4" transform="translate(34.8,346.2) matrix(.58,-.15,0,1,0,0)" fill="url(#ga)"/>
<use href="#a3" transform="translate(38.9,350.2) matrix(.58,-.15,0,1,0,0)" fill="url(#gad)"/>
<use href="#a3" transform="translate(41.1,352.4) matrix(.58,-.15,0,1,0,0)" fill="url(#ga)"/>
<use href="#a2" transform="translate(45.2,356.4) matrix(.58,-.15,0,1,0,0)" fill="url(#gad)"/>
<use href="#a2" transform="translate(47.4,358.6) matrix(.58,-.15,0,1,0,0)" fill="url(#ga)"/>
<use href="#a1" transform="translate(51.5,362.6) matrix(.58,-.15,0,1,0,0)" fill="url(#gad)"/>
<use href="#a1" transform="translate(53.7,364.8) matrix(.58,-.15,0,1,0,0)" fill="url(#ga)"/>
<use href="#a0" transform="translate(57.8,368.8) matrix(.58,-.15,0,1,0,0)" fill="url(#gad)"/>
<use href="#a0" transform="translate(60,371) matrix(.58,-.15,0,1,0,0)" fill="url(#ga)"/>
<use href="#rowlab"/><use href="#yearlab"/>
<text class="axe" x="29" y="347.5">0</text><text class="axe" x="29" y="339.9">35</text><text class="axe" x="29" y="332.3">70</text><text class="axe" x="29" y="324.7">105</text><text class="axe" x="29" y="317.1">140</text><text class="axe" x="29" y="309.5">175</text>
<text class="axm" transform="translate(13,327) rotate(-90)">Total WF (10⁸ m³)</text>
<text class="cl" x="32" y="307">(a)</text>
</g>
<g id="chart-b">
<use href="#frame" class="fr" transform="translate(160,-1)"/>
<use href="#b4" transform="translate(192.6,343) matrix(.58,-.15,0,1,0,0)" fill="url(#gbd)"/>
<use href="#b4" transform="translate(194.8,345.2) matrix(.58,-.15,0,1,0,0)" fill="url(#gb)"/>
<use href="#b3" transform="translate(198.9,349.2) matrix(.58,-.15,0,1,0,0)" fill="url(#gbd)"/>
<use href="#b3" transform="translate(201.1,351.4) matrix(.58,-.15,0,1,0,0)" fill="url(#gb)"/>
<use href="#b2" transform="translate(205.2,355.4) matrix(.58,-.15,0,1,0,0)" fill="url(#gbd)"/>
<use href="#b2" transform="translate(207.4,357.6) matrix(.58,-.15,0,1,0,0)" fill="url(#gb)"/>
<use href="#b1" transform="translate(211.5,361.6) matrix(.58,-.15,0,1,0,0)" fill="url(#gbd)"/>
<use href="#b1" transform="translate(213.7,363.8) matrix(.58,-.15,0,1,0,0)" fill="url(#gb)"/>
<use href="#b0" transform="translate(217.8,367.8) matrix(.58,-.15,0,1,0,0)" fill="url(#gbd)"/>
<use href="#b0" transform="translate(220,370) matrix(.58,-.15,0,1,0,0)" fill="url(#gb)"/>
<use href="#rowlab" transform="translate(160,-1)"/><use href="#yearlab" transform="translate(160,-1)"/>
<text class="axe" x="189" y="346.5">0</text><text class="axe" x="189" y="340">20</text><text class="axe" x="189" y="333.5">40</text><text class="axe" x="189" y="327">60</text><text class="axe" x="189" y="320.5">80</text><text class="axe" x="189" y="314">100</text><text class="axe" x="189" y="307.5">120</text>
<text class="axm" transform="translate(174,326) rotate(-90)">Blue WF (10⁸m³)</text>
<text class="cl" x="192" y="306">(b)</text>
</g>
<g id="chart-c">
<use href="#frame" class="fr" transform="translate(0,105)"/>
<use href="#c4" transform="translate(32.6,449) matrix(.58,-.15,0,1,0,0)" fill="url(#gcd)"/>
<use href="#c4" transform="translate(34.8,451.2) matrix(.58,-.15,0,1,0,0)" fill="url(#gc)"/>
<use href="#c3" transform="translate(38.9,455.2) matrix(.58,-.15,0,1,0,0)" fill="url(#gcd)"/>
<use href="#c3" transform="translate(41.1,457.4) matrix(.58,-.15,0,1,0,0)" fill="url(#gc)"/>
<use href="#c2" transform="translate(45.2,461.4) matrix(.58,-.15,0,1,0,0)" fill="url(#gcd)"/>
<use href="#c2" transform="translate(47.4,463.6) matrix(.58,-.15,0,1,0,0)" fill="url(#gc)"/>
<use href="#c1" transform="translate(51.5,467.6) matrix(.58,-.15,0,1,0,0)" fill="url(#gcd)"/>
<use href="#c1" transform="translate(53.7,469.8) matrix(.58,-.15,0,1,0,0)" fill="url(#gc)"/>
<use href="#c0" transform="translate(57.8,473.8) matrix(.58,-.15,0,1,0,0)" fill="url(#gcd)"/>
<use href="#c0" transform="translate(60,476) matrix(.58,-.15,0,1,0,0)" fill="url(#gc)"/>
<use href="#rowlab" transform="translate(0,105)"/><use href="#yearlab" transform="translate(0,105)"/>
<text class="axe" x="29" y="452.5">0</text><text class="axe" x="29" y="445.9">10</text><text class="axe" x="29" y="439.2">20</text><text class="axe" x="29" y="432.5">30</text><text class="axe" x="29" y="425.9">40</text><text class="axe" x="29" y="419.2">50</text><text class="axe" x="29" y="412.5">60</text>
<text class="axm" transform="translate(13,431) rotate(-90)">Green WF (10⁸m³)</text>
<text class="cl" x="32" y="412">(c)</text>
</g>
<g id="chart-d">
<use href="#frame" class="fr" transform="translate(160,105)"/>
<use href="#d4" transform="translate(192.6,449) matrix(.58,-.15,0,1,0,0)" fill="url(#gdd)"/>
<use href="#d4" transform="translate(194.8,451.2) matrix(.58,-.15,0,1,0,0)" fill="url(#gd)"/>
<use href="#d3" transform="translate(198.9,455.2) matrix(.58,-.15,0,1,0,0)" fill="url(#gdd)"/>
<use href="#d3" transform="translate(201.1,457.4) matrix(.58,-.15,0,1,0,0)" fill="url(#gd)"/>
<use href="#d2" transform="translate(205.2,461.4) matrix(.58,-.15,0,1,0,0)" fill="url(#gdd)"/>
<use href="#d2" transform="translate(207.4,463.6) matrix(.58,-.15,0,1,0,0)" fill="url(#gd)"/>
<use href="#d1" transform="translate(211.5,467.6) matrix(.58,-.15,0,1,0,0)" fill="url(#gdd)"/>
<use href="#d1" transform="translate(213.7,469.8) matrix(.58,-.15,0,1,0,0)" fill="url(#gd)"/>
<use href="#d0" transform="translate(217.8,473.8) matrix(.58,-.15,0,1,0,0)" fill="url(#gdd)"/>
<use href="#d0" transform="translate(220,476) matrix(.58,-.15,0,1,0,0)" fill="url(#gd)"/>
<use href="#rowlab" transform="translate(160,105)"/><use href="#yearlab" transform="translate(160,105)"/>
<text class="axe" x="189" y="452.5">0</text><text class="axe" x="189" y="446.5">10</text><text class="axe" x="189" y="440.5">20</text><text class="axe" x="189" y="434.5">30</text><text class="axe" x="189" y="428.5">40</text><text class="axe" x="189" y="422.5">50</text><text class="axe" x="189" y="416.5">60</text><text class="axe" x="189" y="410.5">70</text>
<text class="axm" transform="translate(174,431) rotate(-90)">Grey WF (10⁸m³)</text>
<text class="cl" x="192" y="412">(d)</text>
</g>
</svg>
